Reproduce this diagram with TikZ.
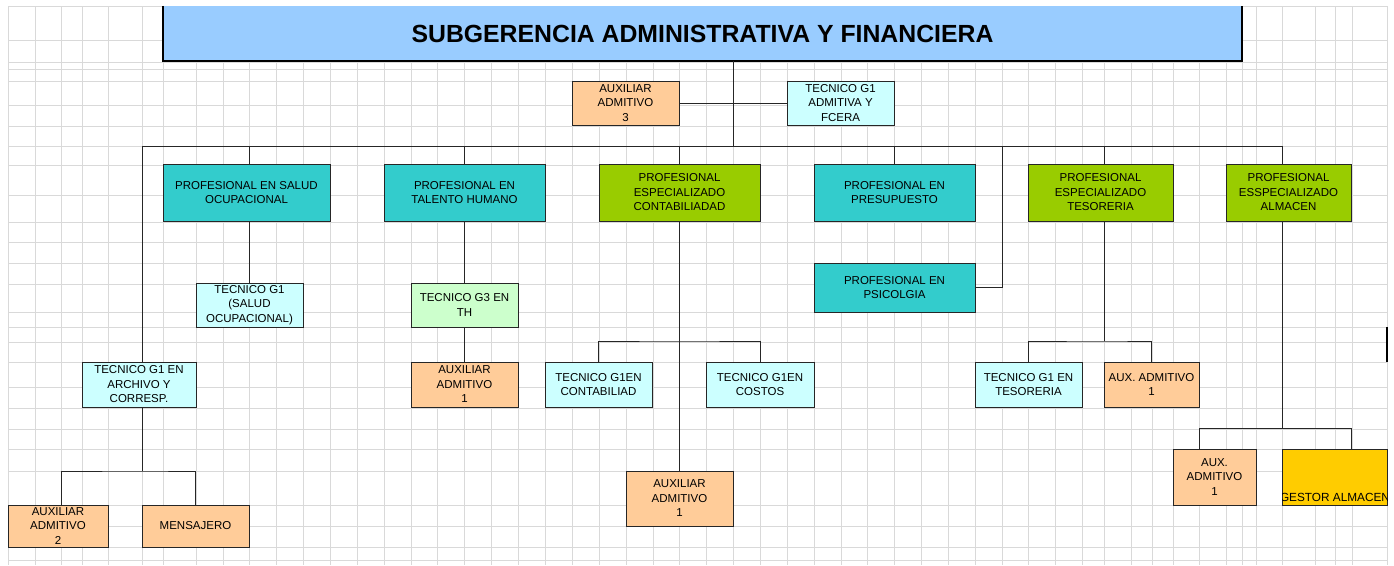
\documentclass[tikz,border=0pt]{standalone}
\usepackage{fontspec}
\setmainfont{Liberation Sans}
\usetikzlibrary{positioning}

\definecolor{azulclaro}{HTML}{99CCFF}
\definecolor{naranja}{HTML}{FFCC99}
\definecolor{celeste}{HTML}{CCFFFF}
\definecolor{turquesa}{HTML}{33CCCC}
\definecolor{verde}{HTML}{99CC00}
\definecolor{verdeclaro}{HTML}{CCFFCC}
\definecolor{oro}{HTML}{FFCC00}
\definecolor{rejilla}{HTML}{D9D9D9}

\begin{document}
\begin{tikzpicture}[x=1pt, y=-1pt,
        caja/.style={draw=black!85, line width=1pt, inner sep=0pt, align=center,
            font=\fontsize{11.5}{14.5}\selectfont},
        linea/.style={line width=1pt, black!85}]
        \useasboundingbox (0,0) rectangle (1394,565);

        \foreach \gx in {8,35,61,82,108,142,163,196,223,249,276,303,330,357,384,411,437,464,491,518,545,572,599,626,653,679,706,733,760,787,814,841,867,894,921,948,975,1002,1028,1055,1082,1104,1131,1152,1173,1199,1226,1242,1256,1282,1315,1335,1352,1387}
            \draw[rejilla, line width=1pt] (\gx,6) -- (\gx,565);
        \foreach \gy in {6,40,62,69,81,105,126,146,165,195,222,242,263,284,312,327,342,362,387,408,429,449,471,505,526,547,560}
            \draw[rejilla, line width=1pt] (8,\gy) -- (1387,\gy);

        \node[fill=azulclaro, minimum width=1079, minimum height=55, inner sep=0pt,
            font=\bfseries\fontsize{24.8}{28}\selectfont] (tit) at (702.5,33.5)
            {SUBGERENCIA ADMINISTRATIVA Y FINANCIERA};
        \draw[line width=2pt] (tit.north west) -- (tit.south west) -- (tit.south east) -- (tit.north east);

        \node[caja, fill=naranja, minimum width=107, minimum height=44] (aux3) at (625.5,103) {AUXILIAR\\ADMITIVO\\3};
        \node[caja, fill=celeste, minimum width=107, minimum height=44] (tadm) at (840.5,103) {TECNICO G1\\ADMITIVA Y\\FCERA};

        \node[caja, fill=turquesa, minimum width=167, minimum height=57] (psalud) at (246.5,192.5) {PROFESIONAL EN SALUD\\OCUPACIONAL};
        \node[caja, fill=turquesa, minimum width=161, minimum height=57] (pth) at (464.5,192.5) {PROFESIONAL EN\\TALENTO HUMANO};
        \node[caja, fill=verde, minimum width=161, minimum height=57] (pcont) at (679.5,192.5) {PROFESIONAL\\ESPECIALIZADO\\CONTABILIADAD};
        \node[caja, fill=turquesa, minimum width=161, minimum height=57] (ppres) at (894.5,192.5) {PROFESIONAL EN\\PRESUPUESTO};
        \node[caja, fill=verde, minimum width=145, minimum height=57] (ptes) at (1100.5,192.5) {PROFESIONAL\\ESPECIALIZADO\\TESORERIA};
        \node[caja, fill=verde, minimum width=125, minimum height=57] (palm) at (1288.5,192.5) {PROFESIONAL\\ESSPECIALIZADO\\ALMACEN};
        \node[caja, fill=turquesa, minimum width=161, minimum height=49] (ppsi) at (894.5,287.5) {PROFESIONAL EN\\PSICOLGIA};

        \node[caja, fill=celeste, minimum width=107, minimum height=44] (tsalud) at (249.5,305) {TECNICO G1\\(SALUD\\OCUPACIONAL)};
        \node[caja, fill=verdeclaro, minimum width=107, minimum height=44] (tth) at (464.5,305) {TECNICO G3 EN\\TH};
        \node[caja, fill=naranja, minimum width=107, minimum height=45] (auxth) at (464.5,384.5) {AUXILIAR\\ADMITIVO\\1};
        \node[caja, fill=celeste, minimum width=114, minimum height=45] (tarch) at (139,384.5) {TECNICO G1 EN\\ARCHIVO Y\\CORRESP.};
        \node[caja, fill=naranja, minimum width=100, minimum height=42] (aux2) at (58,526) {AUXILIAR\\ADMITIVO\\2};
        \node[caja, fill=naranja, minimum width=107, minimum height=42] (mens) at (195.5,526) {MENSAJERO};

        \node[caja, fill=celeste, minimum width=107, minimum height=45] (tcont) at (598.5,384.5) {TECNICO G1EN\\CONTABILIAD};
        \node[caja, fill=celeste, minimum width=108, minimum height=45] (tcost) at (760,384.5) {TECNICO G1EN\\COSTOS};
        \node[caja, fill=naranja, minimum width=107, minimum height=55] (auxcont) at (679.5,498.5) {AUXILIAR\\ADMITIVO\\1};

        \node[caja, fill=celeste, minimum width=107, minimum height=45] (ttes) at (1028.5,384.5) {TECNICO G1 EN\\TESORERIA};
        \node[caja, fill=naranja, minimum width=95, minimum height=45] (auxtes) at (1151.5,384.5) {AUX. ADMITIVO\\1};
        \node[caja, fill=naranja, minimum width=83, minimum height=56] (auxalm) at (1214.5,477) {AUX.\\ADMITIVO\\1};
        \node[caja, fill=oro, minimum width=105, minimum height=56] (gestor) at (1334.5,477) {};
        \begin{scope}
            \clip ([shift={(0.5pt,-0.5pt)}]gestor.north west) rectangle ([shift={(-0.5pt,0.5pt)}]gestor.south east);
            \node[anchor=base, inner sep=0pt, font=\fontsize{11.8}{14.5}\selectfont] (tgestor) at (1335,501) {GESTOR ALMACEN};
        \end{scope}

        \coordinate (nudo) at (733,146);
        \coordinate (busizq) at (142,146);
        \coordinate (busder) at (1282,146);
        \coordinate (psi) at (1002,146);
        \coordinate (arch) at (142,471);
        \coordinate (cont) at (679.5,341);
        \coordinate (tes) at (1104,341);
        \coordinate (alm) at (1282,428);
        \coordinate (almizq) at (1199,428);
        \coordinate (almder) at (1351,428);

        \draw[linea] (tit.south -| nudo) -- (nudo);
        \draw[linea] (aux3.east) -- (tadm.west);
        \draw[linea] (busizq) -- (busder);
        \draw[linea] (tsalud.north |- busizq) -- (tsalud.north |- psalud.north);
        \draw[linea] (psalud.south -| tsalud.north) -- (tsalud.north);
        \draw[linea] (pth.north |- busizq) -- (pth.north);
        \draw[linea] (pth.south) -- (tth.north);
        \draw[linea] (tth.south) -- (auxth.north);
        \draw[linea] (pcont.north |- busizq) -- (pcont.north);
        \draw[linea] (pcont.south) -- (auxcont.north);
        \draw[linea] (tcont.north) |- (cont) -| (tcost.north);
        \draw[linea] (ppres.north |- busizq) -- (ppres.north);
        \draw[linea] (psi) -- (psi |- ppsi.east) -- (ppsi.east);
        \draw[linea] (tes |- busizq) -- (tes |- ptes.north);
        \draw[linea] (ptes.south -| tes) -- (tes);
        \draw[linea] (ttes.north) |- (tes) -| (auxtes.north);
        \draw[linea] (busder) -- (busder |- palm.north);
        \draw[linea] (palm.south -| alm) -- (alm);
        \draw[linea] (almizq |- auxalm.north) -- (almizq) -- (almder) -- (almder |- gestor.north);
        \draw[linea] (busizq) -- (busizq |- tarch.north);
        \draw[linea] (tarch.south -| arch) -- (arch);
        \draw[linea] ([xshift=3pt]aux2.north) |- (arch) -| (mens.north);
        \draw[line width=2pt] (1387,327) -- (1387,362);
    \end{tikzpicture}
\end{document}
